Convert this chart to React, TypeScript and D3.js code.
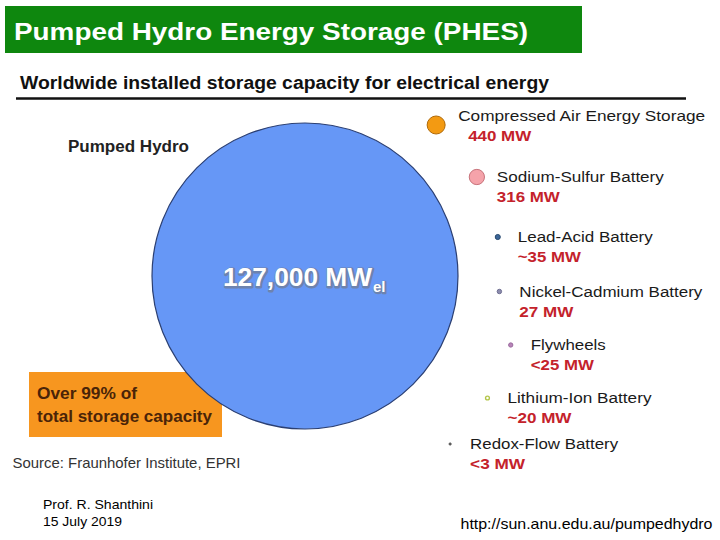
import React from "react";
import * as d3 from "d3";

// ---------- data ----------
const categories = [
  "Compressed Air Energy Storage",
  "Sodium-Sulfur Battery",
  "Lead-Acid Battery",
  "Nickel-Cadmium Battery",
  "Flywheels",
  "Lithium-Ion Battery",
  "Redox-Flow Battery",
];
const capacityMW = [440, 316, 35, 27, 25, 20, 3];
const valueLabels = ["440 MW", "316 MW", "~35 MW", "27 MW", "<25 MW", "~20 MW", "<3 MW"];
const pumpedHydroName = "Pumped Hydro";
const pumpedHydroMW = 127000;
const pumpedHydroLabel = "127,000 MW";
const pumpedHydroSub = "el";

const titleText = "Pumped Hydro Energy Storage (PHES)";
const subtitleText = "Worldwide installed storage capacity for electrical energy";
const calloutLines = ["Over 99% of", "total storage capacity"];
const sourceText = "Source: Fraunhofer Institute, EPRI";
const authorLines = ["Prof. R. Shanthini", "15 July 2019"];
const urlText = "http://sun.anu.edu.au/pumpedhydro";

// ---------- styles ----------
const fills = ["#f39a12", "#f5a3aa", "#3d6698", "#8c8cae", "#b884b8", "#ffffff", "#555555"];
const strokes = ["#b06a08", "#c8747c", "#27496f", "#6f6f92", "#9a6a9e", "#b4c64a", "#555555"];
const labelWidths = [247, 167, 135, 183, 75, 144, 148];
const valueWidths = [63, 63, 63, 54, 63, 64, 55];

const FONT = "'Liberation Sans', Arial, Helvetica, sans-serif";

export default function App() {
  const W = 720;
  const H = 540;
  const cx = 305;
  const cy = 276;

  const rScale = d3.scaleSqrt().domain([0, pumpedHydroMW]).range([0, 153]);
  const idx = d3.range(categories.length);
  // vertical placement of the small items (row index -> y)
  const yRow = d3.scaleLinear().domain([0, 1, 2, 3, 4, 5, 6]).range([125, 177, 237, 291.5, 345, 398, 444]);
  // distance from the big circle's centre along which the rows sit
  const ring = d3.scaleLinear().domain([0, 3, 4, 6]).range([200, 195, 217, 222]);

  const items = idx.map((i) => {
    const y = yRow(i);
    const R = ring(i);
    const dy = y - cy;
    const x = cx + Math.sqrt(R * R - dy * dy);
    return { i, x, y, r: Math.max(rScale(capacityMW[i]), 1.1) };
  });

  return (
    <svg
      width={W}
      height={H}
      viewBox={`0 0 ${W} ${H}`}
      style={{ position: "absolute", left: 0, top: 0, background: "#ffffff" }}
      fontFamily={FONT}
    >
      <rect x={0} y={0} width={W} height={H} fill="#ffffff" />

      {/* title bar */}
      <rect x={5} y={6} width={577} height={47} fill="#0e870e" />
      <text x={14} y={40} fill="#ffffff" fontSize={24} fontWeight="bold" textLength={514} lengthAdjust="spacingAndGlyphs">
        {titleText}
      </text>

      {/* subtitle + rule */}
      <text x={20} y={89} fill="#111111" fontSize={18} fontWeight="bold" textLength={529} lengthAdjust="spacingAndGlyphs">
        {subtitleText}
      </text>
      <line x1={16} x2={686} y1={98.5} y2={98.5} stroke="#111111" strokeWidth={2.5} />

      {/* callout box (behind circle) */}
      <rect x={29} y={372} width={193} height={65} fill="#f7961f" />
      <text x={37} y={399} fill="#4a2408" fontSize={16} fontWeight="bold" textLength={100} lengthAdjust="spacingAndGlyphs">
        {calloutLines[0]}
      </text>
      <text x={37} y={421.5} fill="#4a2408" fontSize={16} fontWeight="bold" textLength={175} lengthAdjust="spacingAndGlyphs">
        {calloutLines[1]}
      </text>

      {/* pumped hydro circle */}
      <circle cx={cx} cy={cy} r={rScale(pumpedHydroMW)} fill="#6697f6" stroke="#2b3f72" strokeWidth={1.2} />
      <text x={68} y={152} fill="#222222" fontSize={16} fontWeight="bold" textLength={121} lengthAdjust="spacingAndGlyphs">
        {pumpedHydroName}
      </text>
      <g>
        <text x={224} y={287} fill="none" stroke="#6f7f9e" strokeWidth={3} strokeLinejoin="round" fontSize={26} fontWeight="bold" textLength={149} lengthAdjust="spacingAndGlyphs" opacity={0.8}>
          {pumpedHydroLabel}
        </text>
        <text x={223} y={286} fill="#ffffff" fontSize={26} fontWeight="bold" textLength={149} lengthAdjust="spacingAndGlyphs">
          {pumpedHydroLabel}
        </text>
        <text x={374} y={293} fill="none" stroke="#6f7f9e" strokeWidth={2.5} strokeLinejoin="round" fontSize={15} fontWeight="bold" opacity={0.8}>
          {pumpedHydroSub}
        </text>
        <text x={373} y={292} fill="#ffffff" fontSize={15} fontWeight="bold">
          {pumpedHydroSub}
        </text>
      </g>

      {/* other technologies */}
      {items.map(({ i, x, y, r }) => {
        const first = i === 0;
        const lx = x + (first ? 22 : 20);
        const labelY = first ? y - 4.5 : y + 5.2;
        const valueY = labelY + 20;
        const vx = first ? lx + 10 : lx;
        return (
          <g key={categories[i]}>
            <circle cx={x} cy={y} r={r} fill={fills[i]} stroke={strokes[i]} strokeWidth={i === 5 ? 1.4 : 1} />
            <text x={lx} y={labelY} fill="#1a1a1a" fontSize={15.5} textLength={labelWidths[i]} lengthAdjust="spacingAndGlyphs">
              {categories[i]}
            </text>
            <text x={vx} y={valueY} fill="#c4222b" fontSize={15.5} fontWeight="bold" textLength={valueWidths[i]} lengthAdjust="spacingAndGlyphs">
              {valueLabels[i]}
            </text>
          </g>
        );
      })}

      {/* source */}
      <text x={12.5} y={468} fill="#333333" fontSize={15} textLength={228} lengthAdjust="spacingAndGlyphs">
        {sourceText}
      </text>

      {/* footer */}
      <text x={43} y={509} fill="#000000" fontSize={13} textLength={110} lengthAdjust="spacingAndGlyphs">
        {authorLines[0]}
      </text>
      <text x={43} y={525.5} fill="#000000" fontSize={13} textLength={79} lengthAdjust="spacingAndGlyphs">
        {authorLines[1]}
      </text>
      <text x={460.5} y={529} fill="#000000" fontSize={14.5} textLength={252} lengthAdjust="spacingAndGlyphs">
        {urlText}
      </text>
    </svg>
  );
}
